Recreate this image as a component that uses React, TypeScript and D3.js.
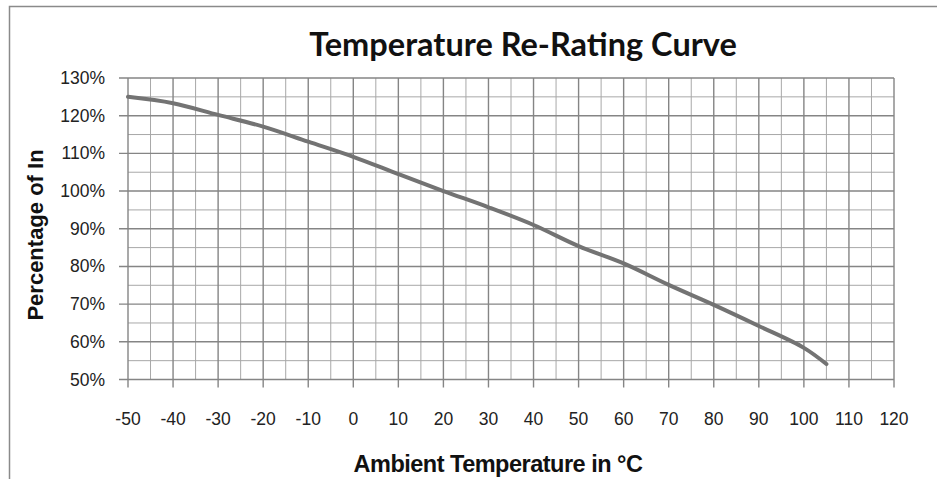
import React, { useEffect, useRef } from 'react';
import * as d3 from 'd3';

const temps = [-50, -40, -30, -20, -10, 0, 10, 20, 30, 40, 50, 60, 70, 80, 90, 100, 105];
const ratings = [125, 123.3, 120.2, 117.1, 113.1, 109.1, 104.5, 100, 95.7, 91, 85.4, 80.8, 75.1, 69.8, 64.2, 58.4, 54.1];

const xTicks = [-50, -40, -30, -20, -10, 0, 10, 20, 30, 40, 50, 60, 70, 80, 90, 100, 110, 120];
const yTicks = [50, 60, 70, 80, 90, 100, 110, 120, 130];

const W = 937;
const H = 479;

const App = () => {
  const svgRef = useRef<SVGSVGElement>(null);

  useEffect(() => {
    const svg = d3.select(svgRef.current);
    svg.selectAll('*').remove();

    const x = d3.scaleLinear().domain([-50, 120]).range([128, 894]);
    const y = d3.scaleLinear().domain([50, 130]).range([379.5, 78]);

    svg.append('rect').attr('width', W).attr('height', H).attr('fill', '#fff');

    // outer chart frame (cropped on right / bottom)
    svg.append('path')
      .attr('d', `M9.5,${H + 2}V6.5H${W + 2}`)
      .attr('fill', 'none')
      .attr('stroke', '#8a8a8a')
      .attr('stroke-width', 1.5);

    // Title
    svg.append('text')
      .attr('x', 523)
      .attr('y', 56)
      .attr('text-anchor', 'middle')
      .style('font-family', 'Lato, "Open Sans", sans-serif')
      .style('font-weight', 'bold')
      .style('font-size', '32.5px')
      .attr('fill', '#111')
      .text('Temperature Re-Rating Curve');

    // Grid: minor every 5, major every 10
    const g = svg.append('g');
    const minorX = d3.range(-45, 120, 10);
    const minorY = d3.range(55, 130, 10);
    g.selectAll('.vmin').data(minorX).enter().append('line')
      .attr('x1', d => x(d)).attr('x2', d => x(d))
      .attr('y1', y(130)).attr('y2', y(50))
      .attr('stroke', '#a8a8a8').attr('stroke-width', 1);
    g.selectAll('.hmin').data(minorY).enter().append('line')
      .attr('x1', x(-50)).attr('x2', x(120))
      .attr('y1', d => y(d)).attr('y2', d => y(d))
      .attr('stroke', '#a8a8a8').attr('stroke-width', 1);
    g.selectAll('.vmaj').data(xTicks).enter().append('line')
      .attr('x1', d => x(d)).attr('x2', d => x(d))
      .attr('y1', y(130)).attr('y2', y(50) + 8)
      .attr('stroke', '#858585').attr('stroke-width', 1.4);
    g.selectAll('.hmaj').data(yTicks).enter().append('line')
      .attr('x1', x(-50) - 9).attr('x2', x(120))
      .attr('y1', d => y(d)).attr('y2', d => y(d))
      .attr('stroke', '#858585').attr('stroke-width', 1.4);

    // Y tick labels
    svg.selectAll('.ylab').data(yTicks).enter().append('text')
      .attr('x', 105)
      .attr('y', d => y(d) + 6)
      .attr('text-anchor', 'end')
      .style('font-family', '"Liberation Sans", Arial, sans-serif')
      .style('font-size', '17.5px')
      .attr('fill', '#222')
      .text(d => `${d}%`);

    // X tick labels
    svg.selectAll('.xlab').data(xTicks).enter().append('text')
      .attr('x', d => x(d))
      .attr('y', 425)
      .attr('text-anchor', 'middle')
      .style('font-family', '"Liberation Sans", Arial, sans-serif')
      .style('font-size', '17.5px')
      .attr('fill', '#222')
      .text(d => d);

    // Axis titles
    svg.append('text')
      .attr('x', 498)
      .attr('y', 472)
      .attr('text-anchor', 'middle')
      .style('font-family', '"Liberation Sans", Arial, sans-serif')
      .style('font-weight', 'bold')
      .style('font-size', '23.5px')
      .style('letter-spacing', '-0.5px')
      .attr('fill', '#111')
      .text('Ambient Temperature in °C');

    svg.append('text')
      .attr('transform', 'translate(43,235) rotate(-90)')
      .attr('text-anchor', 'middle')
      .style('font-family', '"Liberation Sans", Arial, sans-serif')
      .style('font-weight', 'bold')
      .style('font-size', '22px')
      .attr('fill', '#111')
      .text('Percentage of In');

    // Curve (smoothed like the spreadsheet line)
    const line = d3.line<number>()
      .x((_, i) => x(temps[i]))
      .y(d => y(d))
      .curve(d3.curveCatmullRom.alpha(0.5));
    svg.append('path')
      .datum(ratings)
      .attr('d', line)
      .attr('fill', 'none')
      .attr('stroke', '#737373')
      .attr('stroke-width', 4)
      .attr('stroke-linecap', 'round');
  }, []);

  return (
    <svg
      ref={svgRef}
      width={W}
      height={H}
      style={{ position: 'absolute', left: 0, top: 0, display: 'block' }}
    />
  );
};

export default App;
